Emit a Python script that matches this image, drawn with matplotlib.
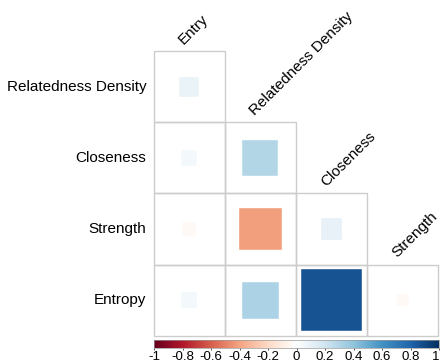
import matplotlib.pyplot as plt
import numpy as np
from matplotlib.colors import LinearSegmentedColormap, Normalize
from matplotlib.patches import Rectangle

plt.rcParams["font.family"] = ["Liberation Sans", "DejaVu Sans"]

# Variables and lower-triangle correlations (row vs column)
row_labels = ["Relatedness Density", "Closeness", "Strength", "Entropy"]
col_labels = ["Entry", "Relatedness Density", "Closeness", "Strength"]
corr = [
    [0.09],
    [0.055, 0.295],
    [-0.04, -0.42, 0.105],
    [0.055, 0.315, 0.86, -0.035],
]
cbar_ticks = [-1, -0.8, -0.6, -0.4, -0.2, 0, 0.2, 0.4, 0.6, 0.8, 1]

# Red-blue diverging palette with a white centre
palette = ["#67001F", "#B2182B", "#D6604D", "#F4A582", "#FDDBC7", "#FFFFFF",
           "#D1E5F0", "#92C5DE", "#4393C3", "#2166AC", "#053061"]
cmap = LinearSegmentedColormap.from_list("rdbu_white", palette, N=200)
norm = Normalize(-1, 1)

W, H = 441, 364
fig = plt.figure(figsize=(W / 100, H / 100), dpi=100)

# one data unit per cell
x0, y0, cell = 153.5, 51.0, 71.2
ax = fig.add_axes([0, 0, 1, 1])
ax.set_xlim(-x0 / cell, (W - x0) / cell)
ax.set_ylim((H - y0) / cell, -y0 / cell)
ax.axis("off")

grid_col = "#CCCCCC"
for i, row in enumerate(corr):
    for j, r in enumerate(row):
        ax.add_patch(Rectangle((j, i), 1, 1, fill=False, edgecolor=grid_col,
                               linewidth=1.0, zorder=1))
        side = np.sqrt(abs(r)) * 0.93
        ax.add_patch(Rectangle((j + 0.5 - side / 2, i + 0.5 - side / 2), side, side,
                               facecolor=cmap(norm(r)), edgecolor="white",
                               linewidth=0.3, zorder=2))

# row labels on the left
for i, name in enumerate(row_labels):
    ax.text(-0.1, i + 0.5, name, ha="right", va="center", fontsize=11)

# column labels along the diagonal
for j, name in enumerate(col_labels):
    ax.text(j + 0.45, j - 0.06, name, ha="left", va="bottom", rotation=45,
            rotation_mode="anchor", fontsize=11)

# colour legend underneath
cax = fig.add_axes([154 / W, 1 - 348 / H, (439 - 154) / W, 8 / H])
grad = np.linspace(-1, 1, 400).reshape(1, -1)
cax.imshow(grad, cmap=cmap, norm=norm, aspect="auto", extent=[-1, 1, 0, 1])
cax.set_xlim(-1, 1)
cax.set_yticks([])
cax.set_xticks(cbar_ticks)
cax.set_xticklabels([f"{t:g}" for t in cbar_ticks])
cax.tick_params(axis="x", length=1.5, width=0.6, color="#333333",
                pad=0.5, labelsize=9.5)
cax.get_xticklabels()[-1].set_horizontalalignment("right")
for s in cax.spines.values():
    s.set_linewidth(0.5)
    s.set_color("#999999")

fig.savefig("out.png", dpi=100)
